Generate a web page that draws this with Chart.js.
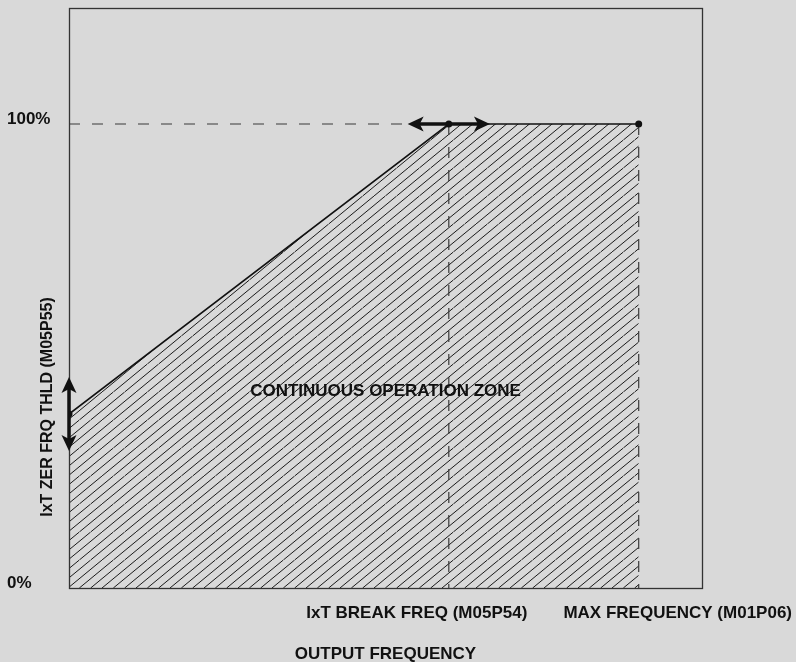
<!DOCTYPE html>
<html>
<head>
<meta charset="utf-8">
<script src="https://cdn.jsdelivr.net/npm/chart.js@4"></script>
<style>
  html, body { margin: 0; padding: 0; background: #d9d9d9; }
  #wrap { width: 796px; height: 662px; }
</style>
</head>
<body>
<div id="wrap"><canvas id="ixtChart" width="796" height="662"></canvas></div>
<script>
// chart values (x = % of frequency axis, y = % current)
const freqPoints = [0, 60, 90];
const limitValues = [37.5, 100, 100];
const yTicks = [0, 100];
const yTickLabels = ['0%', '100%'];
const xMarks = [60, 90];
const xMarkLabels = ['IxT BREAK FREQ (M05P54)', 'MAX FREQUENCY (M01P06)'];
const zeroArrow = [29.5, 45.5];   // y range of arrow at x = 0
const breakArrow = [53.5, 66.5];  // x range of arrow at y = 100

const FONT = 'bold 17px "Liberation Sans", Arial, sans-serif';

function hatchPattern() {
  const c = document.createElement('canvas');
  c.width = 34; c.height = 28;
  const g = c.getContext('2d');
  g.strokeStyle = '#1a1a1a';
  g.lineWidth = 1;
  for (let k = -4; k <= 4; k++) {
    const x0 = k * 34 / 3;
    g.beginPath();
    g.moveTo(x0, 28);
    g.lineTo(x0 + 34, 0);
    g.stroke();
  }
  return g.createPattern(c, 'repeat');
}

function arrowHead(ctx, x, y, dx, dy) {
  // tip at (x,y), pointing in direction (dx,dy)
  const len = 16, half = 7.5;
  const bx = x - dx * len, by = y - dy * len;
  ctx.beginPath();
  ctx.moveTo(x, y);
  ctx.lineTo(bx - dy * half, by + dx * half);
  ctx.lineTo(bx + dx * 4, by + dy * 4);
  ctx.lineTo(bx + dy * half, by - dx * half);
  ctx.closePath();
  ctx.fill();
}

const decorations = {
  id: 'decorations',
  afterDatasetsDraw(chart) {
    const ctx = chart.ctx;
    const a = chart.chartArea;
    const xs = chart.scales.x, ys = chart.scales.y;
    ctx.save();

    // frame
    ctx.strokeStyle = '#333';
    ctx.lineWidth = 1.3;
    ctx.strokeRect(Math.round(a.left) + 0.5, Math.round(a.top) + 0.5,
      Math.round(a.right - a.left), Math.round(a.bottom - a.top));

    // arrows
    ctx.fillStyle = '#111';
    ctx.strokeStyle = '#111';
    ctx.lineWidth = 3.5;
    const ax = xs.getPixelForValue(freqPoints[0]);
    const y1 = ys.getPixelForValue(zeroArrow[1]), y2 = ys.getPixelForValue(zeroArrow[0]);
    ctx.beginPath(); ctx.moveTo(ax, y1 + 10); ctx.lineTo(ax, y2 - 10); ctx.stroke();
    arrowHead(ctx, ax, y1, 0, -1);
    arrowHead(ctx, ax, y2, 0, 1);

    const hy = ys.getPixelForValue(100);
    const x1 = xs.getPixelForValue(breakArrow[0]), x2 = xs.getPixelForValue(breakArrow[1]);
    ctx.beginPath(); ctx.moveTo(x1 + 10, hy); ctx.lineTo(x2 - 10, hy); ctx.stroke();
    arrowHead(ctx, x1, hy, -1, 0);
    arrowHead(ctx, x2, hy, 1, 0);

    // texts
    ctx.fillStyle = '#111';
    ctx.font = FONT;
    ctx.textBaseline = 'middle';
    ctx.textAlign = 'left';
    yTicks.forEach((v, i) => {
      ctx.fillText(yTickLabels[i], 7, ys.getPixelForValue(v) - 4.5);
    });

    ctx.textAlign = 'center';
    const xOffsets = [-32, 39];
    xMarks.forEach((v, i) => {
      ctx.fillText(xMarkLabels[i], xs.getPixelForValue(v) + xOffsets[i], a.bottom + 25);
    });
    const midX = (a.left + a.right) / 2;
    ctx.fillText('OUTPUT FREQUENCY', midX, a.bottom + 66);
    ctx.fillText('CONTINUOUS OPERATION ZONE', midX, 391);

    ctx.save();
    ctx.translate(48, 407);
    ctx.rotate(-Math.PI / 2);
    ctx.font = 'bold 16px "Liberation Sans", Arial, sans-serif';
    ctx.fillText('IxT ZER FRQ THLD (M05P55)', 0, 0);
    ctx.restore();

    ctx.restore();
  }
};

const limitLine = freqPoints.map((x, i) => ({ x: x, y: limitValues[i] }));
const dashStyle = { borderColor: '#3a3a3a', borderWidth: 1.2, borderDash: [11, 12], pointRadius: 0, fill: false };

new Chart(document.getElementById('ixtChart'), {
  type: 'line',
  data: {
    datasets: [
      {
        label: 'limit',
        data: limitLine,
        borderColor: '#111',
        borderWidth: 1.6,
        pointRadius: 3.5,
        pointBackgroundColor: '#111',
        pointBorderWidth: 0,
        fill: 'origin',
        backgroundColor: hatchPattern(),
        tension: 0
      },
      Object.assign({ label: 'h', data: [{ x: freqPoints[0], y: 100 }, { x: xMarks[0], y: 100 }] }, dashStyle),
      Object.assign({ label: 'v1', data: [{ x: xMarks[0], y: 100 }, { x: xMarks[0], y: 0 }] }, dashStyle),
      Object.assign({ label: 'v2', data: [{ x: xMarks[1], y: 100 }, { x: xMarks[1], y: 0 }] }, dashStyle)
    ]
  },
  options: {
    responsive: false,
    animation: false,
    layout: { padding: { left: 69, top: 8, right: 94, bottom: 74 } },
    scales: {
      x: { type: 'linear', min: 0, max: 100, display: false },
      y: { type: 'linear', min: 0, max: 125, display: false }
    },
    plugins: {
      legend: { display: false },
      tooltip: { enabled: false },
      filler: { drawTime: 'beforeDatasetsDraw' }
    }
  },
  plugins: [decorations]
});
</script>
</body>
</html>
